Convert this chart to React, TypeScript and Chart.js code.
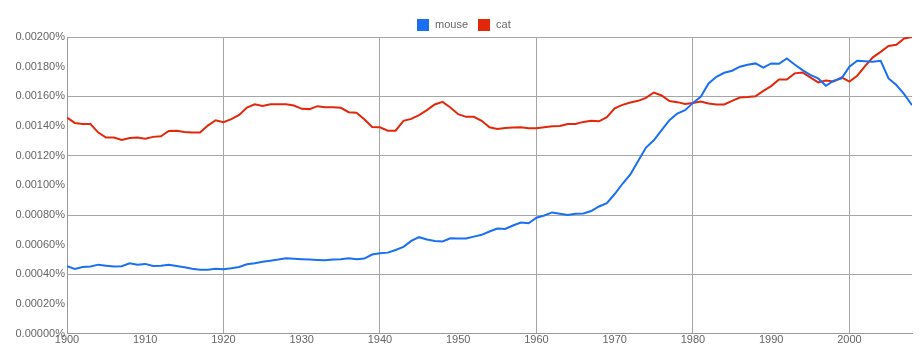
import React, { useEffect, useRef } from "react";
import { Chart, registerables } from "chart.js";

Chart.register(...registerables);

const years = [
  1900, 1901, 1902, 1903, 1904, 1905, 1906, 1907, 1908, 1909,
  1910, 1911, 1912, 1913, 1914, 1915, 1916, 1917, 1918, 1919,
  1920, 1921, 1922, 1923, 1924, 1925, 1926, 1927, 1928, 1929,
  1930, 1931, 1932, 1933, 1934, 1935, 1936, 1937, 1938, 1939,
  1940, 1941, 1942, 1943, 1944, 1945, 1946, 1947, 1948, 1949,
  1950, 1951, 1952, 1953, 1954, 1955, 1956, 1957, 1958, 1959,
  1960, 1961, 1962, 1963, 1964, 1965, 1966, 1967, 1968, 1969,
  1970, 1971, 1972, 1973, 1974, 1975, 1976, 1977, 1978, 1979,
  1980, 1981, 1982, 1983, 1984, 1985, 1986, 1987, 1988, 1989,
  1990, 1991, 1992, 1993, 1994, 1995, 1996, 1997, 1998, 1999,
  2000, 2001, 2002, 2003, 2004, 2005, 2006, 2007, 2008,
];

const mouse = [
  0.000455, 0.000437, 0.00045, 0.000453, 0.000466, 0.000459, 0.000453, 0.000455, 0.000475, 0.000466,
  0.000471, 0.000457, 0.000459, 0.000466, 0.000457, 0.000448, 0.000439, 0.000432, 0.000432, 0.000439,
  0.000435, 0.000441, 0.00045, 0.000468, 0.000475, 0.000486, 0.000493, 0.0005, 0.000509, 0.000505,
  0.000502, 0.0005, 0.000498, 0.000495, 0.0005, 0.000502, 0.000509, 0.000502, 0.000507, 0.000534,
  0.000543, 0.000547, 0.000565, 0.000586, 0.000626, 0.000651, 0.000635, 0.000626, 0.000622, 0.000644,
  0.000642, 0.000642, 0.000655, 0.000667, 0.000689, 0.000709, 0.000707, 0.00073, 0.00075, 0.000745,
  0.000782, 0.000797, 0.000818, 0.000809, 0.0008, 0.000809, 0.000811, 0.000827, 0.000858, 0.00088,
  0.000942, 0.001011, 0.001074, 0.001164, 0.001255, 0.001304, 0.001372, 0.001439, 0.001484, 0.001507,
  0.001556, 0.001597, 0.001687, 0.001732, 0.001759, 0.001773, 0.0018, 0.001813, 0.001822, 0.001793,
  0.001822, 0.00182, 0.001856, 0.001815, 0.001777, 0.001745, 0.001721, 0.001671, 0.001705, 0.001721,
  0.0018, 0.00184, 0.001836, 0.001833, 0.00184, 0.001721, 0.001676, 0.001615, 0.001541,
];

const cat = [
  0.001457, 0.001421, 0.001414, 0.001414, 0.001356, 0.001322, 0.001322, 0.001306, 0.00132, 0.001322,
  0.001315, 0.001327, 0.001331, 0.001367, 0.001369, 0.00136, 0.001356, 0.001356, 0.001403, 0.001439,
  0.001426, 0.001446, 0.001475, 0.001525, 0.001547, 0.001536, 0.001547, 0.001547, 0.001547, 0.001538,
  0.001516, 0.001514, 0.001534, 0.001527, 0.001527, 0.001523, 0.001493, 0.001489, 0.001446, 0.001394,
  0.001392, 0.001369, 0.001369, 0.001435, 0.001448, 0.001473, 0.001507, 0.001545, 0.001563, 0.001525,
  0.00148, 0.001462, 0.001462, 0.001435, 0.001392, 0.00138, 0.001387, 0.00139, 0.001392, 0.001385,
  0.001385, 0.001392, 0.001399, 0.0014, 0.001414, 0.001414, 0.001428, 0.001435, 0.001432, 0.00146,
  0.00152, 0.001543, 0.001559, 0.00157, 0.00159, 0.001626, 0.001606, 0.001568, 0.001561, 0.001549,
  0.001556, 0.001565, 0.001552, 0.001545, 0.001545, 0.00157, 0.001592, 0.001595, 0.001601, 0.001637,
  0.001669, 0.001714, 0.001714, 0.001755, 0.001761, 0.001728, 0.001694, 0.001707, 0.0017, 0.001728,
  0.0017, 0.001739, 0.001804, 0.001863, 0.0019, 0.001939, 0.001948, 0.00199, 0.002,
];

const seriesNames = ["mouse", "cat"];
const seriesColors = ["#1a6ff2", "#e3270b"];

const FONT = "'Liberation Sans', Arial, sans-serif";
const GRID = "#a6a6a6";
const TEXT = "#666";

// Legend drawn on the canvas (compact, like the original)
const topLegend = {
  id: "topLegend",
  afterDraw(chart: any) {
    const ctx = chart.ctx;
    const ds = chart.data.datasets;
    ctx.save();
    ctx.font = `11px ${FONT}`;
    const box = 12;
    const gapText = 6;
    const gapItem = 10;
    const widths = ds.map((d: any) => ctx.measureText(d.label).width);
    const total = widths.reduce((a: number, w: number) => a + box + gapText + w, 0) + gapItem * (ds.length - 1);
    const centerX = 464;
    let x = Math.round(centerX - total / 2);
    const boxTop = 19;
    ds.forEach((d: any, i: number) => {
      ctx.fillStyle = d.borderColor;
      ctx.fillRect(x, boxTop, box, box);
      x += box + gapText;
      ctx.fillStyle = TEXT;
      ctx.textBaseline = "alphabetic";
      ctx.textAlign = "left";
      ctx.fillText(d.label, x, 28);
      x += widths[i] + gapItem;
    });
    ctx.restore();
  },
};

export default function App() {
  const ref = useRef<HTMLCanvasElement | null>(null);

  useEffect(() => {
    document.body.style.margin = "0";
    if (!ref.current) return;
    const chart = new Chart(ref.current, {
      type: "line",
      data: {
        datasets: [
          {
            label: seriesNames[0],
            data: years.map((y, i) => ({ x: y, y: mouse[i] })),
            borderColor: seriesColors[0],
            backgroundColor: seriesColors[0],
            borderWidth: 2,
            pointRadius: 0,
            tension: 0,
          },
          {
            label: seriesNames[1],
            data: years.map((y, i) => ({ x: y, y: cat[i] })),
            borderColor: seriesColors[1],
            backgroundColor: seriesColors[1],
            borderWidth: 2,
            pointRadius: 0,
            tension: 0,
          },
        ],
      },
      options: {
        animation: false,
        responsive: true,
        maintainAspectRatio: false,
        layout: { padding: { top: 37, right: 12, bottom: 16, left: 0 } },
        plugins: {
          tooltip: { enabled: false },
          legend: { display: false },
        },
        scales: {
          x: {
            type: "linear",
            min: 1900,
            max: 2008,
            border: { display: true, color: "#999", width: 1 },
            grid: {
              drawTicks: false,
              color: (ctx: any) =>
                ctx.tick && ctx.tick.value % 20 === 0 && ctx.tick.value !== 1900 ? GRID : "rgba(0,0,0,0)",
            },
            ticks: {
              stepSize: 10,
              includeBounds: false,
              autoSkip: false,
              maxRotation: 0,
              padding: 0,
              color: TEXT,
              font: { family: FONT, size: 11 },
              callback: (v: any) => String(v),
            },
          },
          y: {
            min: 0,
            max: 0.002,
            afterFit: (s: any) => {
              s.width = 67;
            },
            border: { display: true, color: "#999", width: 1 },
            grid: {
              drawTicks: false,
              color: (ctx: any) => {
                const v = ctx.tick ? ctx.tick.value : 0;
                const k = Math.round(v / 0.0002);
                return k > 0 && k % 2 === 0 ? GRID : "rgba(0,0,0,0)";
              },
            },
            ticks: {
              stepSize: 0.0002,
              padding: 2,
              color: TEXT,
              font: { family: FONT, size: 11 },
              callback: (v: any) => Number(v).toFixed(5) + "%",
            },
          },
        },
      },
      plugins: [topLegend],
    });
    return () => chart.destroy();
  }, []);

  return (
    <div style={{ position: "absolute", left: 0, top: 0, width: 924, height: 363 }}>
      <canvas ref={ref} />
    </div>
  );
}
